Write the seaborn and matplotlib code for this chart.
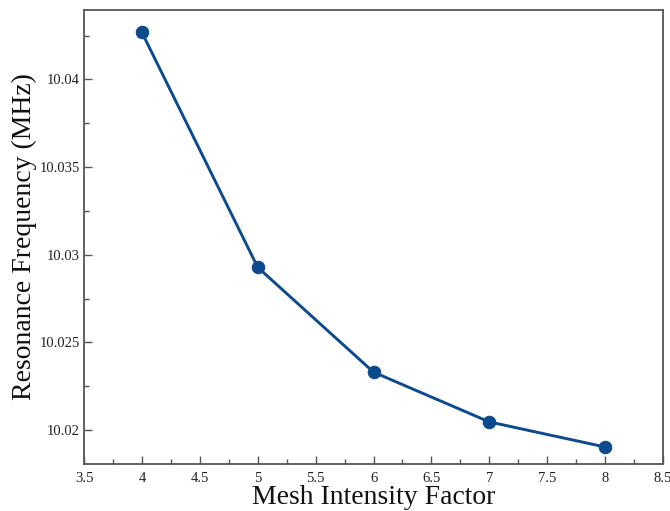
import matplotlib
matplotlib.use("Agg")
import matplotlib.pyplot as plt
from matplotlib.ticker import MultipleLocator
import seaborn as sns
import pandas as pd

# Mesh convergence study: resonance frequency vs mesh intensity factor
mesh_factor = [4, 5, 6, 7, 8]
resonance_mhz = [10.04268, 10.02928, 10.02330, 10.02046, 10.01903]

x_ticks = [3.5, 4, 4.5, 5, 5.5, 6, 6.5, 7, 7.5, 8, 8.5]
x_tick_labels = ["3.5", "4", "4.5", "5", "5.5", "6", "6.5", "7", "7.5", "8", "8.5"]
y_ticks = [10.02, 10.025, 10.03, 10.035, 10.04]
y_tick_labels = ["10.02", "10.025", "10.03", "10.035", "10.04"]

df = pd.DataFrame({"mesh": mesh_factor, "freq": resonance_mhz})

sns.set_theme(style="ticks")
plt.rcParams["font.family"] = ["Liberation Serif", "DejaVu Serif"]

line_color = "#0c4a8d"
spine_color = "#555555"

fig = plt.figure(figsize=(6.70, 5.11), dpi=100)
ax = fig.add_axes([0.1254, 0.0920, 0.8642, 0.8884])

sns.lineplot(data=df, x="mesh", y="freq", ax=ax, color=line_color,
             linewidth=2.1, marker="o", markersize=9,
             markeredgecolor=line_color, markerfacecolor=line_color)

ax.set_xlim(3.5, 8.5)
ax.set_ylim(10.01806, 10.04396)

ax.set_xticks(x_ticks)
ax.set_xticklabels(x_tick_labels)
ax.set_yticks(y_ticks)
ax.set_yticklabels(y_tick_labels)
ax.xaxis.set_minor_locator(MultipleLocator(0.25))
ax.yaxis.set_minor_locator(MultipleLocator(0.0025))

ax.tick_params(axis="both", which="major", direction="in", length=6, width=1.0,
               color=spine_color, labelsize=10.5, labelcolor="#222222")
ax.tick_params(axis="x", which="major", pad=6)
ax.tick_params(axis="y", which="major", pad=3)
ax.tick_params(axis="both", which="minor", direction="in", length=3.5, width=1.0,
               color=spine_color)

for side in ["left", "right", "top", "bottom"]:
    ax.spines[side].set_visible(True)
    ax.spines[side].set_color(spine_color)
    ax.spines[side].set_linewidth(1.3)

ax.set_xlabel("Mesh Intensity Factor", fontsize=20, labelpad=0, color="#111111")
ax.set_ylabel("Resonance Frequency (MHz)", fontsize=20, labelpad=2, color="#111111")
ax.grid(False)

fig.savefig("out.png", dpi=100)
